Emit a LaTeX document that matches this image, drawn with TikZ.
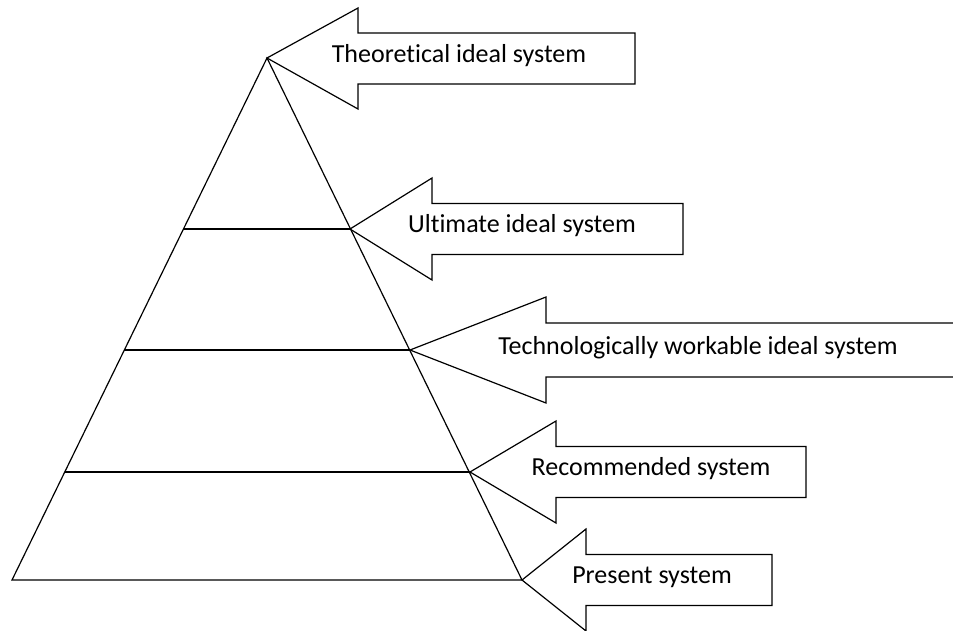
\documentclass[tikz,border=0pt]{standalone}
\usepackage{fontspec}
\setmainfont[Ligatures=NoCommon]{Carlito}
\begin{document}
\begin{tikzpicture}[x=1pt,y=-1pt,
  outline/.style={draw=black,line width=1.2pt,line join=miter},
  blockarrow/.style={draw=black,line width=1.2pt,line join=miter,fill=white},
  label/.style={font=\fontsize{26}{30}\selectfont,inner sep=0pt,anchor=center}]
\useasboundingbox (0,0) rectangle (953,630);
\clip (0,0) rectangle (953,630);

% pyramid corners and level ends
\coordinate (apex) at (267,58);
\coordinate (bl) at (12,580);
\coordinate (br) at (522,580);
\coordinate (l1) at (184,229);
\coordinate (r1) at (350,229);
\coordinate (l2) at (124,350);
\coordinate (r2) at (410,350);
\coordinate (l3) at (65,472);
\coordinate (r3) at (470,472);

\draw[outline] (apex) -- (bl) -- (br) -- cycle;
\draw[outline] (l1) -- (r1);
\draw[outline] (l2) -- (r2);
\draw[outline] (l3) -- (r3);

% block arrows pointing at each level
\draw[blockarrow] (apex) -- ++(91,-50) -- ++(0,25) -- ++(277,0) -- ++(0,51)
  -- ++(-277,0) -- ++(0,25) -- cycle;
\draw[blockarrow] (r1) -- ++(82,-51) -- ++(0,25.5) -- ++(251,0) -- ++(0,51)
  -- ++(-251,0) -- ++(0,25.5) -- cycle;
\draw[blockarrow] (960,323) -- (546,323) -- (546,297) -- (r2) -- (546,403)
  -- (546,377) -- (960,377);
\draw[blockarrow] (r3) -- ++(86,-51) -- ++(0,25.5) -- ++(250,0) -- ++(0,51)
  -- ++(-250,0) -- ++(0,25.5) -- cycle;
\draw[blockarrow] (br) -- ++(64,-51) -- ++(0,25.5) -- ++(186,0) -- ++(0,51)
  -- ++(-186,0) -- ++(0,25.5) -- cycle;

% level names
\node[label] (n1) at (459,56) {Theoretical ideal system};
\node[label] (n2) at (522,226) {Ultimate ideal system};
\node[label] (n3) at (698,348) {Technologically workable ideal system};
\node[label] (n4) at (651,469) {Recommended system};
\node[label] (n5) at (652,577) {Present system};
\end{tikzpicture}
\end{document}
